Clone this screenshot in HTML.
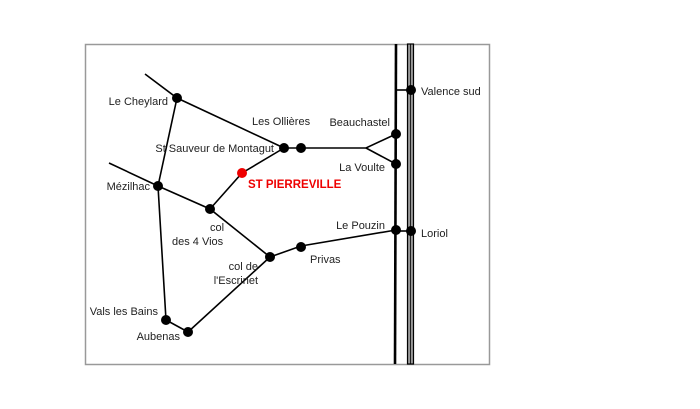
<!DOCTYPE html>
<html><head><meta charset="utf-8"><style>
html,body{margin:0;padding:0;background:#fff;width:700px;height:409px;overflow:hidden}
svg text{font-family:"Liberation Sans",sans-serif;font-size:11px;fill:#222}
</style></head><body>
<svg width="700" height="409" viewBox="0 0 700 409" xmlns="http://www.w3.org/2000/svg">
<rect x="85.5" y="44.5" width="404" height="320" fill="#fff" stroke="#999" stroke-width="1.5"/>
<g stroke="#000" stroke-width="1.6" fill="none">
<polyline points="145,74 177,98 284,148"/>
<line x1="177" y1="98" x2="158" y2="186"/>
<polyline points="109,163 158,186 210,209 270,257 301,246 396,230"/>
<polyline points="158,186 166,320 188,332 270,257"/>
<polyline points="284,148 242,173 210,209"/>
<polyline points="284,148 366,148 396,134"/>
<line x1="366" y1="148" x2="396" y2="164"/>
<line x1="396" y1="90" x2="411" y2="90"/>
<line x1="396" y1="231" x2="411" y2="231"/>
</g>
<line x1="396" y1="44" x2="395" y2="364" stroke="#000" stroke-width="2.6"/>
<rect x="407.5" y="44" width="6" height="320" fill="#999" stroke="#000" stroke-width="1.2"/>
<line x1="410.5" y1="44" x2="410.5" y2="364" stroke="#000" stroke-width="0.8"/>
<g fill="#000">
<circle cx="177" cy="98" r="5"/><circle cx="284" cy="148" r="5"/><circle cx="301" cy="148" r="5"/>
<circle cx="396" cy="134" r="5"/><circle cx="396" cy="164" r="5"/><circle cx="411" cy="90" r="5"/>
<circle cx="158" cy="186" r="5"/><circle cx="210" cy="209" r="5"/><circle cx="270" cy="257" r="5"/>
<circle cx="301" cy="247" r="5"/><circle cx="396" cy="230" r="5"/><circle cx="411" cy="231" r="5"/>
<circle cx="166" cy="320" r="5"/><circle cx="188" cy="332" r="5"/>
</g>
<circle cx="242" cy="173" r="5" fill="#e00"/>
<text x="168" y="105" text-anchor="end">Le Cheylard</text>
<text x="252" y="125">Les Ollières</text>
<text x="274" y="152" text-anchor="end">St Sauveur de Montagut</text>
<text x="390" y="126" text-anchor="end">Beauchastel</text>
<text x="385" y="171" text-anchor="end">La Voulte</text>
<text x="421" y="95">Valence sud</text>
<text x="150" y="190" text-anchor="end">Mézilhac</text>
<text x="248" y="188" style="fill:#e00;font-weight:bold;font-size:11.5px">ST PIERREVILLE</text>
<text x="210" y="231">col</text>
<text x="172" y="245">des 4 Vios</text>
<text x="385" y="229" text-anchor="end">Le Pouzin</text>
<text x="421" y="237">Loriol</text>
<text x="310" y="263">Privas</text>
<text x="258" y="270" text-anchor="end">col de</text>
<text x="258" y="284" text-anchor="end">l'Escrinet</text>
<text x="158" y="315" text-anchor="end">Vals les Bains</text>
<text x="180" y="340" text-anchor="end">Aubenas</text>
</svg>
</body></html>
